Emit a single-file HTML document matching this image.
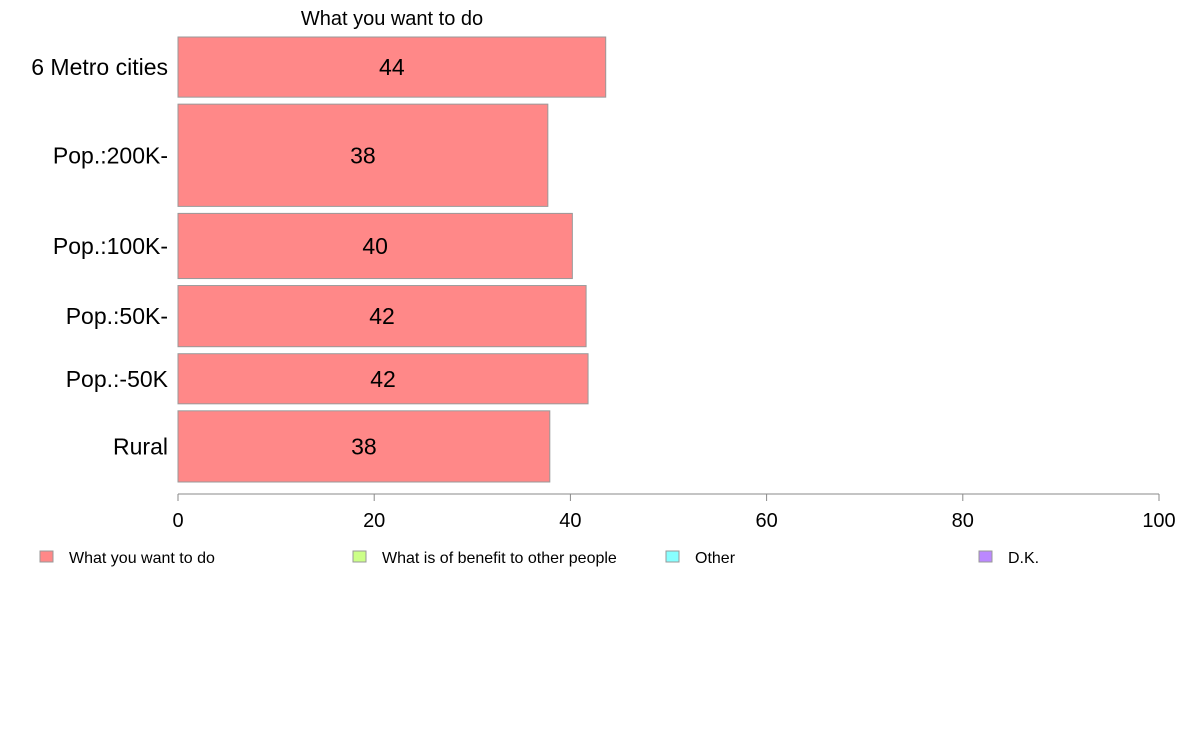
<!DOCTYPE html>
<html><head><meta charset="utf-8"><style>
html,body{margin:0;padding:0;background:#fff;}
svg{display:block;font-family:"Liberation Sans",Arial,sans-serif;}
</style></head><body>
<svg id="chart" width="1188" height="736" viewBox="0 0 1188 736">
<text x="392" y="25" font-size="20" text-anchor="middle">What you want to do</text>
<g id="bars"></g>
<g id="axis"></g>
<g id="legend"></g>
</svg>
<script>
const categories = ["6 Metro cities","Pop.:200K-","Pop.:100K-","Pop.:50K-","Pop.:-50K","Rural"];
const values = [43.6, 37.7, 40.2, 41.6, 41.8, 37.9];
const labels = ["44","38","40","42","42","38"];
const weights = [60, 102, 65, 61, 50, 71];
const ticks = [0,20,40,60,80,100];
const legendItems = ["What you want to do","What is of benefit to other people","Other","D.K."];
const legendColors = ["#ff8888","#ccff88","#88ffff","#bb88ff"];

const NS="http://www.w3.org/2000/svg";
const x0=178, x1=1159, yTop=37, yBot=482, gap=7;
const xs = v => x0 + (x1-x0)*v/100;
function mk(tag, attrs, parent){const e=document.createElementNS(NS,tag);for(const k in attrs)e.setAttribute(k,attrs[k]);parent.appendChild(e);return e;}
const bars=document.getElementById('bars');
const totalW = weights.reduce((a,b)=>a+b,0);
const avail = (yBot-yTop) - gap*(weights.length-1);
let y=yTop;
categories.forEach((c,i)=>{
  const h = avail*weights[i]/totalW;
  const r=mk('rect',{x:x0,y:y,width:xs(values[i])-x0,height:h,fill:'#ff8888',stroke:'#999','stroke-width':1},bars);
  
  
  const t=mk('text',{x:(x0+xs(values[i]))/2,y:y+h/2+8,'font-size':23,'text-anchor':'middle'},bars);
  t.textContent=labels[i];
  
  
  const l=mk('text',{x:168,y:y+h/2+8,'font-size':23,'text-anchor':'end'},bars);
  l.textContent=c;
  
  
  y+=h+gap;
});
const axis=document.getElementById('axis');
const al=mk('line',{x1:x0,x2:x1,y1:494,y2:494,stroke:'#888','stroke-width':1},axis);


ticks.forEach(v=>{
  const tl=mk('line',{x1:xs(v),x2:xs(v),y1:494,y2:501,stroke:'#888'},axis);
  
  
  const tt=mk('text',{x:xs(v),y:527,'font-size':20,'text-anchor':'middle'},axis);
  tt.textContent=v;
  
  
});
const leg=document.getElementById('legend');
const lx=[40,353,666,979];
legendItems.forEach((s,i)=>{
  const g=mk('g',{},leg);
  
  
  mk('rect',{x:lx[i],y:551,width:13,height:11,fill:legendColors[i],stroke:'#999'},g);
  const t=mk('text',{x:lx[i]+29,y:563,'font-size':16},g);
  t.textContent=s;
});
</script>
</body></html>
